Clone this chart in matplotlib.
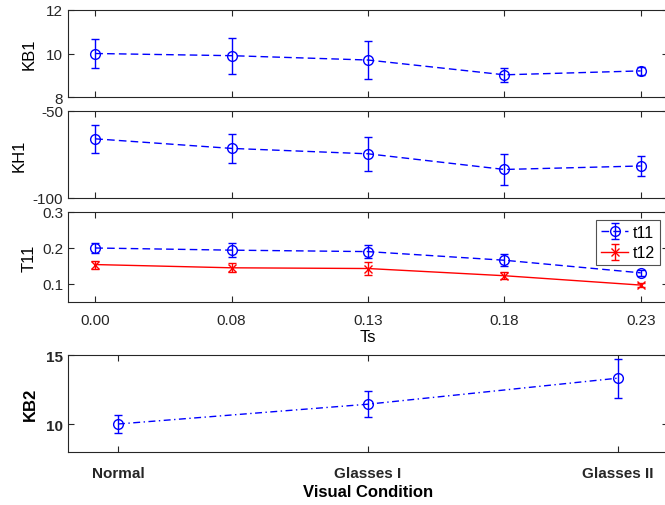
import matplotlib.pyplot as plt
import numpy as np

plt.rcParams.update({
    "font.family": "Liberation Sans",
    "font.size": 11,
    "axes.unicode_minus": False,
    "axes.edgecolor": "#262626",
    "axes.linewidth": 0.8,
    "xtick.color": "#262626",
    "ytick.color": "#262626",
    "xtick.direction": "in",
    "ytick.direction": "in",
    "xtick.top": True,
    "ytick.right": True,
    "xtick.major.size": 4,
    "ytick.major.size": 4,
    "lines.dashed_pattern": (5.5, 3),
    "lines.dashdot_pattern": (5, 2.5, 1, 2.5),
})

# Data
ts_labels = ["0.00", "0.08", "0.13", "0.18", "0.23"]
kb1 = [10.0, 9.9, 9.7, 9.02, 9.2]
kb1_err = [0.65, 0.82, 0.86, 0.32, 0.19]
kh1 = [-66.0, -71.5, -74.6, -83.6, -81.6]
kh1_err = [8.2, 8.1, 9.8, 8.9, 5.5]
t11 = [0.200, 0.194, 0.190, 0.166, 0.131]
t11_err = [0.015, 0.019, 0.017, 0.016, 0.008]
t12 = [0.154, 0.145, 0.143, 0.123, 0.097]
t12_err = [0.011, 0.012, 0.017, 0.010, 0.005]

conditions = ["Normal", "Glasses I", "Glasses II"]
kb2 = [10.02, 11.45, 13.33]
kb2_err = [0.67, 0.94, 1.4]

fig = plt.figure(figsize=(6.65, 5.06), dpi=100)

left, width = 68 / 665, 600 / 665
ax1 = fig.add_axes([left, 1 - 98 / 506, width, 87 / 506])
ax2 = fig.add_axes([left, 1 - 199 / 506, width, 87 / 506])
ax3 = fig.add_axes([left, 1 - 303 / 506, width, 90 / 506])
ax4 = fig.add_axes([left, 1 - 453 / 506, width, 97 / 506])

x = np.arange(1, len(ts_labels) + 1)
eb = dict(marker="o", markersize=7, mfc="none", capsize=3, elinewidth=1, lw=1)

ax1.errorbar(x, kb1, yerr=kb1_err, color="blue", ls="--", **eb)
ax1.set_ylim(8, 12)
ax1.set_yticks([8, 10, 12])
ax1.set_ylabel("KB1", fontsize=12, labelpad=7)

ax2.errorbar(x, kh1, yerr=kh1_err, color="blue", ls="--", **eb)
ax2.set_ylim(-100, -50)
ax2.set_yticks([-100, -50])
ax2.set_ylabel("KH1", fontsize=12, labelpad=4)

ax3.errorbar(x, t11, yerr=t11_err, color="blue", ls="--", label="t11", **eb)
ax3.errorbar(x, t12, yerr=t12_err, color="red", ls="-", marker="x", markersize=6,
             capsize=3, elinewidth=1, lw=1, label="t12")
ax3.set_ylim(0.05, 0.3)
ax3.set_yticks([0.1, 0.2, 0.3])
ax3.set_ylabel("T11", fontsize=12, labelpad=4)
leg = ax3.legend(loc="upper right", fancybox=False, edgecolor="#262626",
                 fontsize=11.5, handlelength=1.7, borderpad=0.3, labelspacing=0.35,
                 handletextpad=0.3, borderaxespad=0.5)
leg.get_frame().set_linewidth(0.8)

for ax in (ax1, ax2, ax3):
    ax.set_xlim(0.8, 5.2)
    ax.set_xticks(x)
    ax.set_xticklabels([])
ax3.set_xticklabels(ts_labels)
ax3.tick_params(axis="x", pad=8)
ax3.set_xlabel("Ts", fontsize=12, labelpad=1)

xc = np.arange(1, len(conditions) + 1)
ax4.errorbar(xc, kb2, yerr=kb2_err, color="blue", ls="-.", **eb)
ax4.set_xlim(0.8, 3.2)
ax4.set_ylim(8, 15)
ax4.set_yticks([10, 15])
ax4.set_xticks(xc)
ax4.set_xticklabels(conditions, fontweight="bold")
for t in ax4.get_yticklabels():
    t.set_fontweight("bold")
ax4.tick_params(axis="x", pad=10)
ax4.set_ylabel("KB2", fontsize=12, fontweight="bold", labelpad=6)
ax4.set_xlabel("Visual Condition", fontsize=12, fontweight="bold", labelpad=3)

fig.savefig("out.png", dpi=100)
